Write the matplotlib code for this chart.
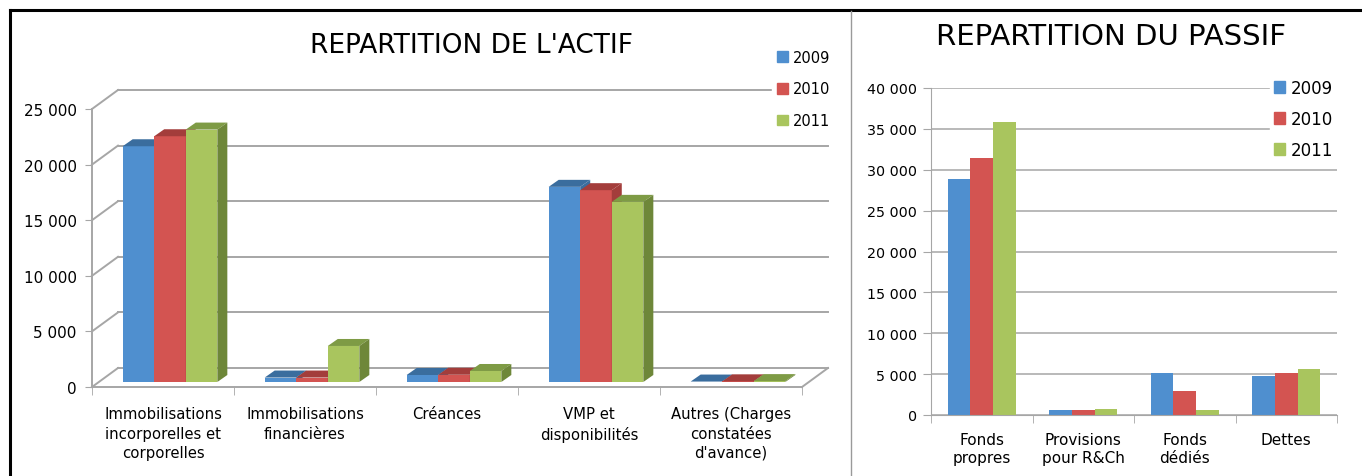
import matplotlib.pyplot as plt
from matplotlib.lines import Line2D
from matplotlib.patches import Patch

years = ["2009", "2010", "2011"]

actif_cats = ["Immobilisations\nincorporelles et\ncorporelles", "Immobilisations\nfinancières",
              "Créances", "VMP et\ndisponibilités", "Autres (Charges\nconstatées\nd'avance)"]
actif_2009 = [21200, 400, 630, 17550, 40]
actif_2010 = [22100, 400, 650, 17250, 60]
actif_2011 = [22700, 3240, 990, 16200, 80]

passif_cats = ["Fonds\npropres", "Provisions\npour R&Ch", "Fonds\ndédiés", "Dettes"]
passif_2009 = [28850, 570, 5190, 4770]
passif_2010 = [31400, 610, 2940, 5190]
passif_2011 = [35850, 730, 660, 5640]

front = ["#4F8FCF", "#D35451", "#A9C55E"]
top_c = ["#3A6D9E", "#A33D3B", "#7E9B45"]
side_c = ["#3A6D9E", "#A33D3B", "#6E8739"]
grid_c = "#A6A6A6"
FONT = "DejaVu Sans"

fig = plt.figure(figsize=(13.62, 4.77), dpi=100)

# frame lines
fig.add_artist(Line2D([10/1362, 1], [1 - 11/477] * 2, color="black", lw=2.2))
fig.add_artist(Line2D([10/1362] * 2, [0, 1 - 11/477], color="black", lw=2.2))
fig.add_artist(Line2D([851/1362] * 2, [0, 1 - 12/477], color="#9A9A9A", lw=1))

# ---------------- left: pseudo 3D ----------------
ax = fig.add_axes([92/1362, 89/477, 740/1362, 300/477])
ax.set_xlim(-0.5, -0.5 + 740/142)
ax.set_ylim(0, 300/0.01112)
for s in ax.spines.values():
    s.set_visible(False)

bdx, bdy = 26/142, 19/0.01112       # back wall offset
fdx, fdy = 7/142, 5/0.01112         # bar front face offset
ddx, ddy = 10/142, 7/0.01112        # bar depth
yt = [0, 5000, 10000, 15000, 20000, 25000]
n = len(actif_cats)
for t in yt:
    ax.plot([-0.5 + bdx, n - 0.5 + bdx], [t + bdy] * 2, color=grid_c, lw=1.4, clip_on=False)
    ax.plot([-0.5, -0.5 + bdx], [t, t + bdy], color=grid_c, lw=1.4, clip_on=False)
ax.plot([-0.5, -0.5], [0, 25000], color=grid_c, lw=1.4, clip_on=False)
ax.plot([-0.5, n - 0.5], [0, 0], color=grid_c, lw=1.4, clip_on=False)
ax.plot([n - 0.5, n - 0.5 + bdx], [0, bdy], color=grid_c, lw=1.4, clip_on=False)

w = 1 / 4.5
series = [actif_2009, actif_2010, actif_2011]
for i in range(n):
    for j, vals in enumerate(series):
        v = vals[i]
        x0 = i - 1.5 * w + j * w + fdx
        x1 = x0 + w
        ax.bar(x0, v, width=w, bottom=fdy, align="edge", color=front[j], lw=0, clip_on=False, zorder=3)
        ax.fill([x0, x1, x1 + ddx, x0 + ddx], [fdy + v, fdy + v, fdy + v + ddy, fdy + v + ddy],
                color=top_c[j], lw=0, clip_on=False, zorder=3)
        ax.fill([x1, x1 + ddx, x1 + ddx, x1], [fdy, fdy + ddy, fdy + v + ddy, fdy + v],
                color=side_c[j], lw=0, clip_on=False, zorder=3)

ax.set_yticks(yt, ["0" if t == 0 else f"{t:,}".replace(",", " ") for t in yt])
ax.set_xticks(range(n), actif_cats)
ax.set_xticks([i - 0.5 for i in range(n + 1)], minor=True)
ax.tick_params(axis="y", length=5, color=grid_c, labelsize=11, pad=6)
ax.tick_params(axis="x", which="major", length=0, labelsize=10.7, pad=14)
ax.tick_params(axis="x", which="minor", length=6, color=grid_c)
for lab in ax.get_xticklabels() + ax.get_yticklabels():
    lab.set_family(FONT)
    lab.set_linespacing(1.35)

fig.text(472/1362, 1 - 46/477, "REPARTITION DE L'ACTIF", ha="center", va="center",
         fontsize=19, family=FONT)
hl = [Patch(color=c) for c in front]
fig.legend(hl, years, loc="upper left", bbox_to_anchor=(765/1362, 1 - 39/477),
           frameon=True, facecolor="white", edgecolor="white", framealpha=1,
           prop={"family": FONT, "size": 10.5}, handlelength=0.75,
           handleheight=0.75, handletextpad=0.35, labelspacing=1.15, borderpad=0.3)

# ---------------- right: 2D bars ----------------
ax2 = fig.add_axes([931/1362, 61/477, 406/1362, 327/477])
m = len(passif_cats)
ax2.set_xlim(-0.5, m - 0.5)
ax2.set_ylim(0, 40000)
for s in ["top", "right"]:
    ax2.spines[s].set_visible(False)
for s in ["left", "bottom"]:
    ax2.spines[s].set_color(grid_c)
ax2.yaxis.grid(True, color=grid_c, lw=1.1)
ax2.set_axisbelow(True)
for j, vals in enumerate([passif_2009, passif_2010, passif_2011]):
    ax2.bar([i + (j - 1) * w for i in range(m)], vals, width=w, color=front[j], lw=0)
yt2 = list(range(0, 40001, 5000))
ax2.set_yticks(yt2, ["0" if t == 0 else f"{t:,}".replace(",", " ") for t in yt2])
ax2.set_xticks(range(m), passif_cats)
ax2.set_xticks([i - 0.5 for i in range(m + 1)], minor=True)
ax2.tick_params(axis="y", length=6, color=grid_c, labelsize=10.3, pad=4)
ax2.tick_params(axis="x", which="major", length=0, labelsize=11, pad=12)
ax2.tick_params(axis="x", which="minor", length=6, color=grid_c)
for lab in ax2.get_xticklabels() + ax2.get_yticklabels():
    lab.set_family(FONT)
    lab.set_linespacing(1.3)

fig.text(1111/1362, 1 - 37/477, "REPARTITION DU PASSIF", ha="center", va="center",
         fontsize=21, family=FONT)
leg = fig.legend(hl, years, loc="upper left", bbox_to_anchor=(1262/1362, 1 - 68/477),
                 frameon=True, facecolor="white", edgecolor="white", framealpha=1,
                 prop={"family": FONT, "size": 12}, handlelength=0.7, handleheight=0.7,
                 handletextpad=0.35, labelspacing=0.78, borderpad=0.2)

fig.savefig("out.png", dpi=100, facecolor="white")
